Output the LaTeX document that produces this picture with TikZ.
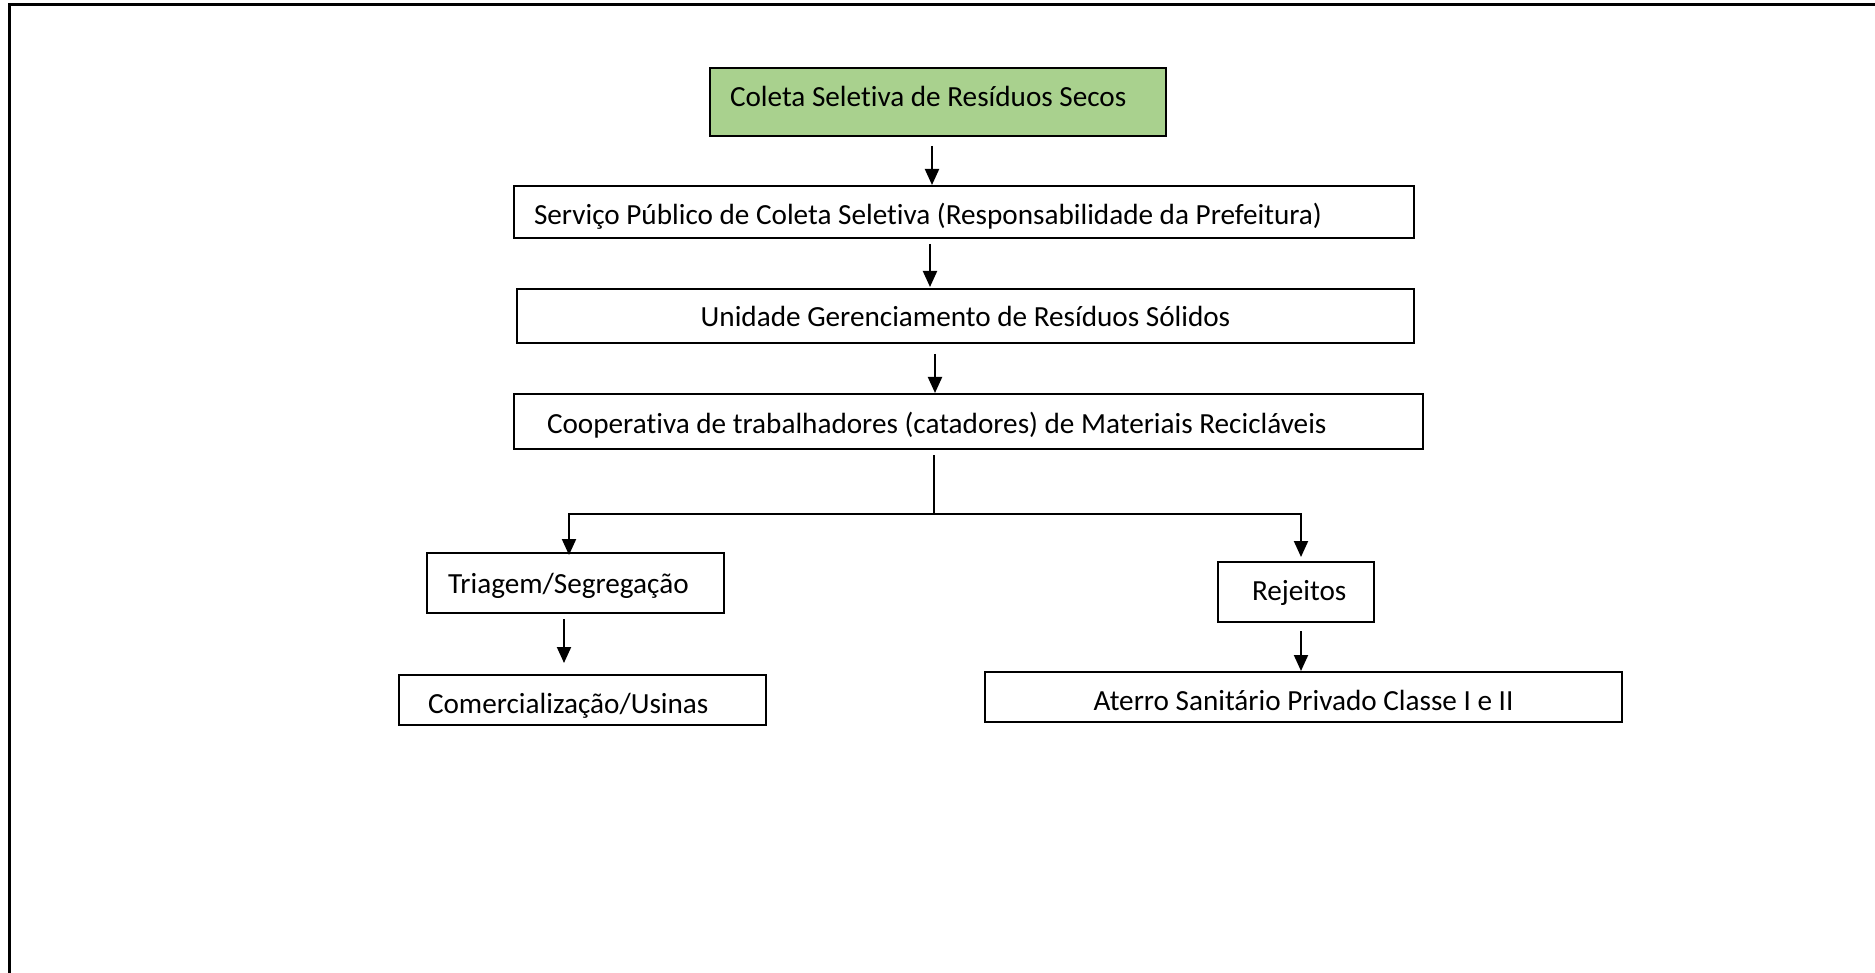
\documentclass[tikz,border=0pt]{standalone}
\usepackage{fontspec}
\setmainfont{Carlito}[Ligatures=NoCommon]
\usetikzlibrary{arrows.meta}
\definecolor{boxgreen}{RGB}{169,209,142}
\newcommand{\rz}[2]{\raisebox{#1}[\height][\depth]{#2}}
\tikzset{
  box/.style={draw=black, line width=1pt, rectangle, anchor=north west, inner ysep=0pt,
    font=\fontsize{14.6pt}{17pt}\selectfont},
  lbox/.style n args={3}{box, minimum width=#1*0.5pt, minimum height=#2*0.5pt,
    inner xsep=#3*0.5pt, text width=#1*0.5pt-2*#3*0.5pt, align=flush left},
  cbox/.style 2 args={box, minimum width=#1*0.5pt, minimum height=#2*0.5pt, inner xsep=0pt, align=center},
  arr/.style={line width=1pt, -{Triangle[width=7pt,length=8pt]}},
  conn/.style={line width=1pt},
  frame/.style={line width=1.5pt}
}
\begin{document}
\begin{tikzpicture}[x=0.5pt,y=-0.5pt]
\useasboundingbox (0,0) rectangle (1875,973);
\draw[frame] (9.5,973) -- (9.5,5) -- (1875,5);

\node[lbox={456}{68}{20}, fill=boxgreen] (green) at (709,67) {\rz{3pt}{Coleta Seletiva de Resíduos Secos}};
\node[lbox={900}{52}{20}] (servico) at (513,185) {\rz{-2.3pt}{Serviço Público de Coleta Seletiva (Responsabilidade da Prefeitura)}};
\node[cbox={897}{54}] (unidade) at (516,288) {Unidade Gerenciamento de Resíduos Sólidos};
\node[lbox={909}{55}{33}] (coop) at (513,393) {\rz{-1.6pt}{Cooperativa de trabalhadores (catadores) de Materiais Recicláveis}};
\node[lbox={297}{60}{21}] (triagem) at (426,552) {\rz{-1.2pt}{Triagem/Segregação}};
\node[lbox={367}{50}{29}] (comerc) at (398,674) {\rz{-2.8pt}{Comercialização/Usinas}};
\node[lbox={156}{60}{34}] (rejeitos) at (1217,561) {\rz{-0.6pt}{Rejeitos}};
\node[cbox={637}{50}] (aterro) at (984,671) {\rz{-1.8pt}{Aterro Sanitário Privado Classe I e II}};

\draw[arr, shorten <=4.5pt] ([xshift=-3pt]green.south) -- ([xshift=-3pt]green.south |- servico.north);
\draw[arr, shorten <=2.5pt, shorten >=0.5pt] ([xshift=-17pt]servico.south) -- ([xshift=-17pt]servico.south |- unidade.north);
\draw[arr, shorten <=5pt] ([xshift=-15.25pt]unidade.south) -- ([xshift=-15.25pt]unidade.south |- coop.north);

\coordinate (split) at ([xshift=-17.25pt]coop.south |- 0,514);
\draw[conn, shorten <=2.5pt] ([xshift=-17.25pt]coop.south) -- (split);
\draw[arr, shorten >=-1.5pt] (split) -| ([xshift=-3.25pt]triagem.north);
\draw[arr, shorten >=2pt] (split) -| ([xshift=2.5pt]rejeitos.north);

\draw[arr, shorten <=2.5pt, shorten >=5.5pt] ([xshift=-5.75pt]triagem.south) -- ([xshift=-5.75pt]triagem.south |- comerc.north);
\draw[arr, shorten <=4pt] ([xshift=2.5pt]rejeitos.south) -- ([xshift=2.5pt]rejeitos.south |- aterro.north);
\end{tikzpicture}
\end{document}
